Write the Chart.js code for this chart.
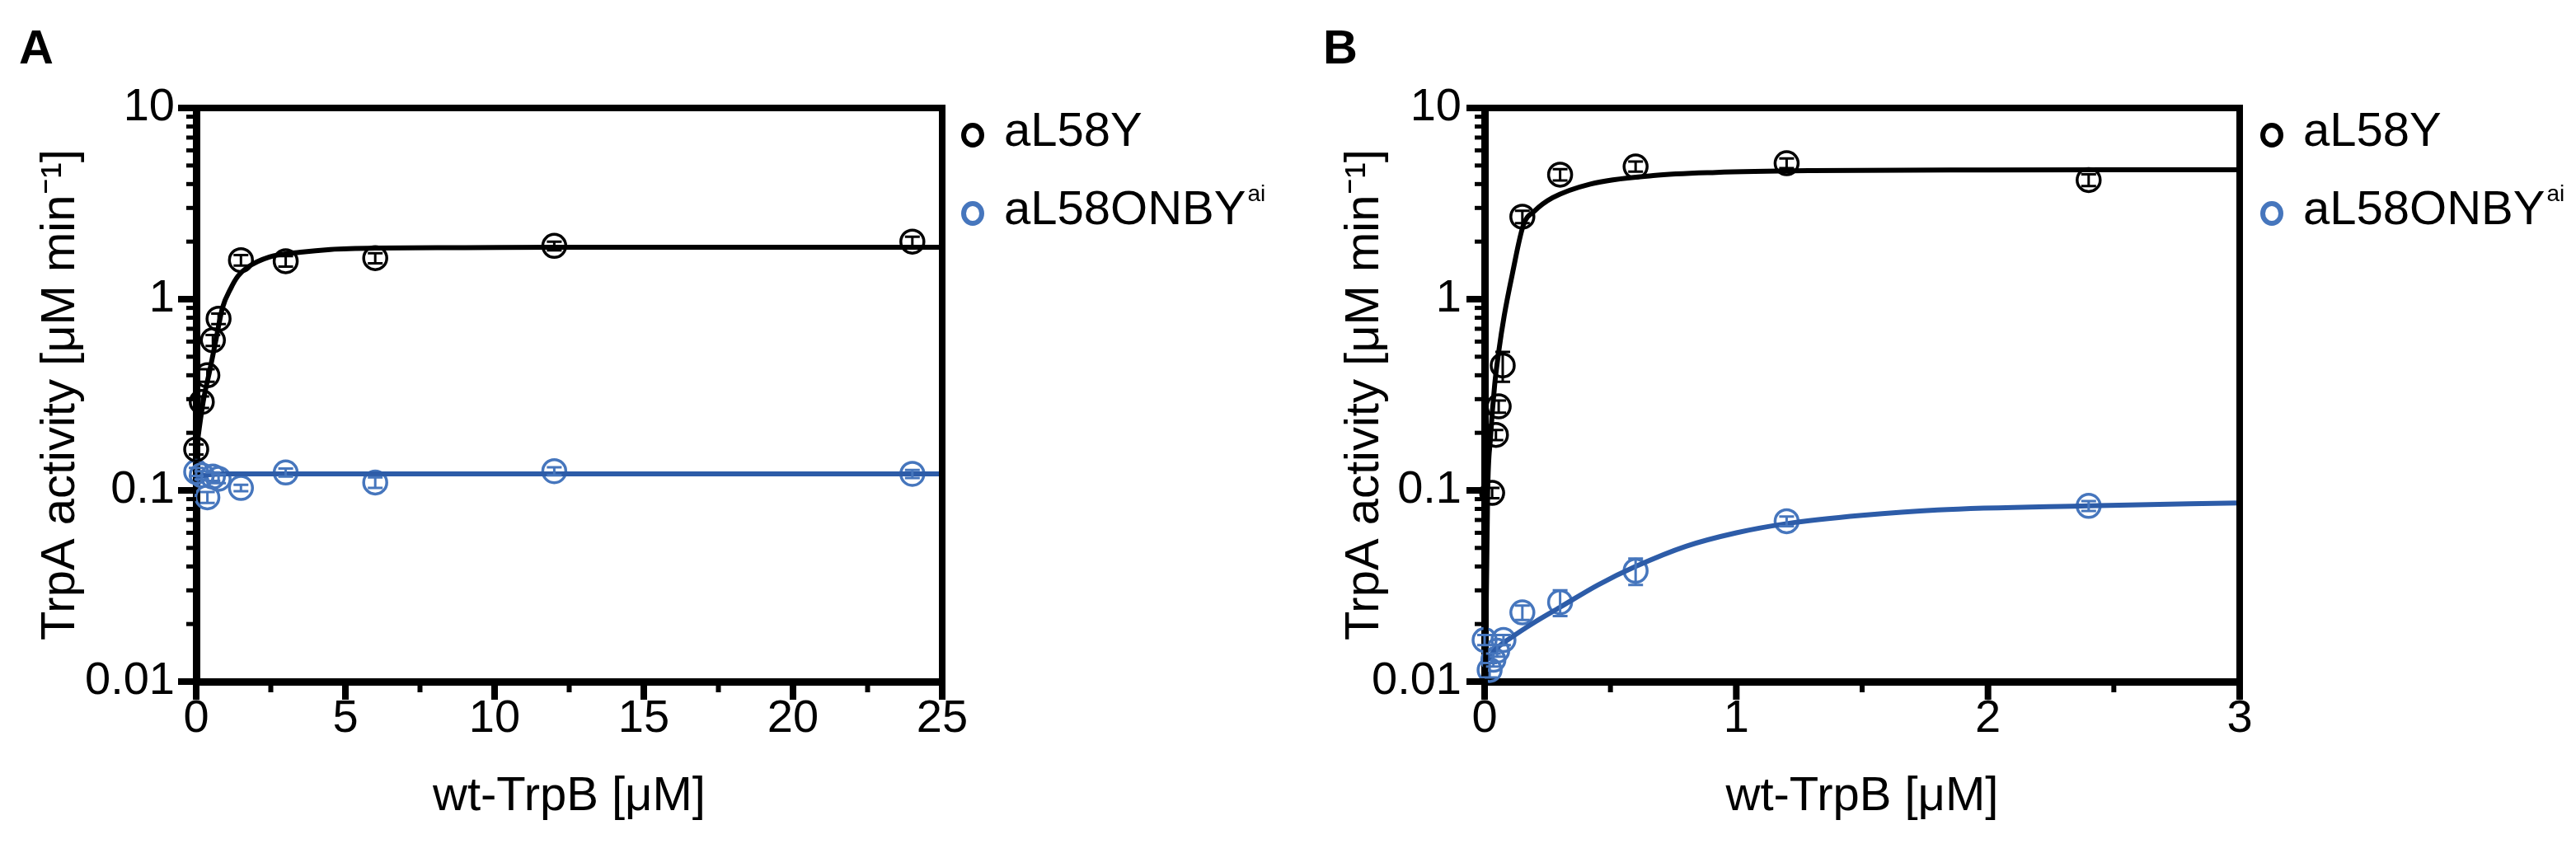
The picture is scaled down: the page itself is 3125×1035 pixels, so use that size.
<!DOCTYPE html>
<html>
<head>
<meta charset="utf-8">
<script src="https://cdn.jsdelivr.net/npm/chart.js@4.4.1/dist/chart.umd.min.js"></script>
<style>
    html, body { margin: 0; padding: 0; background: #fff; }
    #wrap { position: relative; width: 3125px; height: 1035px; }
    canvas { position: absolute; top: 0; }
</style>
</head>
<body>
<div id="wrap">
    <canvas id="chartA" width="1562" height="1035" style="left:0;width:1562px;height:1035px"></canvas>
    <canvas id="chartB" width="1563" height="1035" style="left:1562px;width:1563px;height:1035px"></canvas>
</div>
<script>
// ---- data ----
const seriesNames = ['aL58Y', 'aL58ONBY'];
const seriesSup = ['', 'ai'];

// Panel A
const concA = [0, 0.1875, 0.375, 0.56, 0.75, 1.5, 3, 6, 12, 24];
const blackA = [0.164, 0.29, 0.40, 0.61, 0.79, 1.6, 1.58, 1.64, 1.9, 2.0];
const blackErrA = [0.01, 0.02, 0.03, 0.04, 0.05, 0.1, 0.1, 0.1, 0.1, 0.12];
const blueA = [0.125, 0.12, 0.092, 0.118, 0.115, 0.103, 0.124, 0.11, 0.126, 0.122];
const blueErrA = [0.006, 0.006, 0.006, 0.006, 0.006, 0.004, 0.006, 0.007, 0.006, 0.006];
const fitBlackAx = [0, 0.1, 0.25, 0.45, 0.65, 0.88, 1.16, 1.4, 1.7, 2.45, 3.5, 4.5, 6, 9, 12, 18, 25];
const fitBlackAy = [0.16, 0.21, 0.3, 0.42, 0.6, 0.9, 1.14, 1.32, 1.46, 1.66, 1.76, 1.82, 1.85, 1.86, 1.87, 1.87, 1.87];
const fitBlueAx = [0, 0.1, 0.3, 1, 25];
const fitBlueAy = [0.112, 0.117, 0.12, 0.122, 0.122];

// Panel B
const concBblack = [0.03, 0.045, 0.056, 0.072, 0.15, 0.3, 0.6, 1.2, 2.4];
const blackB = [0.097, 0.195, 0.275, 0.45, 2.7, 4.48, 4.94, 5.14, 4.2];
const blackErrB = [0.006, 0.012, 0.02, 0.08, 0.2, 0.3, 0.3, 0.3, 0.3];
const concBblue = [0, 0.02, 0.035, 0.05, 0.075, 0.15, 0.3, 0.6, 1.2, 2.4];
const blueB = [0.0165, 0.0115, 0.013, 0.0145, 0.0165, 0.023, 0.026, 0.038, 0.069, 0.083];
const blueErrB = [0.001, 0.001, 0.001, 0.001, 0.001, 0.002, 0.004, 0.006, 0.004, 0.005];
const fitBlackBx = [0.003, 0.012, 0.023, 0.04, 0.056, 0.078, 0.11, 0.154, 0.2, 0.27, 0.42, 0.67, 0.92, 1.3, 2, 3];
const fitBlackBy = [0.01, 0.095, 0.185, 0.356, 0.53, 0.82, 1.35, 2.44, 2.9, 3.39, 4.0, 4.43, 4.6, 4.7, 4.74, 4.75];
const fitBlueBx = [0, 0.05, 0.1, 0.2, 0.3, 0.45, 0.6, 0.8, 1.0, 1.2, 1.5, 1.8, 2.4, 3.0];
const fitBlueBy = [0.0125, 0.015, 0.0168, 0.0205, 0.0245, 0.032, 0.040, 0.051, 0.060, 0.067, 0.074, 0.079, 0.083, 0.086];

// axes
const xTicksA = [0, 5, 10, 15, 20, 25];
const xMinorA = [2.5, 7.5, 12.5, 17.5, 22.5];
const xTicksB = [0, 1, 2, 3];
const xMinorB = [0.5, 1.5, 2.5];
const yTicks = [0.01, 0.1, 1, 10];
const yTickLabels = ['0.01', '0.1', '1', '10'];

const BLACK = '#000000';
const BLUE_PT = '#4676bd';
const BLUE_LINE = '#2d5ca8';
const FONT = "'Liberation Sans', Arial, sans-serif";

Chart.defaults.font.family = FONT;
Chart.defaults.color = '#000';

const pts = (xs, ys) => xs.map((x, i) => ({ x: x, y: ys[i] }));

// frame, tick marks, error bars, legend and panel letter
const figureDecor = {
    id: 'figureDecor',
    afterDatasetsDraw(chart, args, opts) {
        const { ctx, scales: { y } } = chart;
        ctx.save();
        // error bars
        chart.data.datasets.forEach((ds, di) => {
            if (!ds.errors) return;
            const meta = chart.getDatasetMeta(di);
            ctx.strokeStyle = ds.borderColor;
            ctx.lineWidth = 3;
            ds.data.forEach((p, i) => {
                const px = meta.data[i].x;
                const hi = y.getPixelForValue(p.y + ds.errors[i]);
                const lo = y.getPixelForValue(Math.max(p.y - ds.errors[i], 0.0005));
                ctx.beginPath();
                ctx.moveTo(px, hi); ctx.lineTo(px, lo);
                ctx.moveTo(px - 9, hi); ctx.lineTo(px + 9, hi);
                ctx.moveTo(px - 9, lo); ctx.lineTo(px + 9, lo);
                ctx.stroke();
            });
        });
        ctx.restore();
    },
    afterDraw(chart, args, opts) {
        const { ctx, chartArea: a, scales: { x, y } } = chart;
        ctx.save();
        ctx.strokeStyle = BLACK;
        ctx.lineCap = 'butt';

        // top and right frame
        ctx.lineWidth = 8;
        ctx.beginPath();
        ctx.moveTo(a.left - 4, a.top);
        ctx.lineTo(a.right, a.top);
        ctx.lineTo(a.right, a.bottom);
        ctx.stroke();

        function seg(x1, y1, x2, y2, w) {
            ctx.lineWidth = w;
            ctx.beginPath();
            ctx.moveTo(x1, y1); ctx.lineTo(x2, y2);
            ctx.stroke();
        }
        // x ticks
        opts.xMajor.forEach(v => {
            const px = x.getPixelForValue(v);
            seg(px, a.bottom, px, a.bottom + 22, 8);
        });
        opts.xMinor.forEach(v => {
            const px = x.getPixelForValue(v);
            seg(px, a.bottom, px, a.bottom + 13, 6);
        });
        // y ticks (log decades with minor marks)
        yTicks.forEach((v, i) => {
            const py = y.getPixelForValue(v);
            seg(a.left - 22, py, a.left, py, 8);
            if (i < yTicks.length - 1) {
                for (let m = 2; m <= 9; m++) {
                    const pm = y.getPixelForValue(v * m);
                    seg(a.left - 12, pm, a.left, pm, 5);
                }
            }
        });

        // legend
        const colors = [BLACK, BLUE_PT];
        seriesNames.forEach((name, i) => {
            const cy = a.top + 33 + i * 95;
            const mx = a.right + opts.legendDx;
            ctx.lineWidth = 6;
            ctx.strokeStyle = colors[i];
            ctx.beginPath();
            ctx.ellipse(mx, cy, 11, 12, 0, 0, Math.PI * 2);
            ctx.stroke();
            ctx.fillStyle = BLACK;
            ctx.textBaseline = 'middle';
            ctx.textAlign = 'left';
            ctx.font = '58px ' + FONT;
            const tx = mx + 38;
            ctx.fillText(name, tx, cy - 3);
            if (seriesSup[i]) {
                const w = ctx.measureText(name).width;
                ctx.font = '28px ' + FONT;
                ctx.fillText(seriesSup[i], tx + w + 2, cy - 23);
            }
        });

        // panel letter
        ctx.fillStyle = BLACK;
        ctx.textAlign = 'left';
        ctx.textBaseline = 'alphabetic';
        ctx.font = 'bold 58px ' + FONT;
        ctx.fillText(opts.letter, opts.letterX, 77);
        ctx.restore();
    }
};

function makePanel(id, cfg) {
    const fitLine = (xs, ys, color) => ({
        type: 'line',
        data: pts(xs, ys),
        borderColor: color,
        borderWidth: 6,
        pointRadius: 0,
        cubicInterpolationMode: 'monotone',
        fill: false,
        clip: false
    });
    const marker = (xs, ys, errs, color, label) => ({
        type: 'scatter',
        label: label,
        data: pts(xs, ys),
        errors: errs,
        borderColor: color,
        backgroundColor: 'rgba(0,0,0,0)',
        pointRadius: 14,
        pointBorderWidth: 3.5,
        showLine: false,
        clip: false
    });

    return new Chart(document.getElementById(id), {
        type: 'scatter',
        data: {
            datasets: [
                fitLine(cfg.fitBlackX, cfg.fitBlackY, BLACK),
                fitLine(cfg.fitBlueX, cfg.fitBlueY, BLUE_LINE),
                marker(cfg.blackX, cfg.blackY, cfg.blackErr, BLACK, seriesNames[0]),
                marker(cfg.blueX, cfg.blueY, cfg.blueErr, BLUE_PT, seriesNames[1] + seriesSup[1])
            ]
        },
        options: {
            responsive: false,
            animation: false,
            devicePixelRatio: 1,
            layout: { padding: { left: 0, top: 131, right: cfg.padRight, bottom: 0 } },
            plugins: {
                legend: { display: false },
                tooltip: { enabled: false },
                figureDecor: {
                    xMajor: cfg.xTicks,
                    xMinor: cfg.xMinor,
                    legendDx: cfg.legendDx,
                    letter: cfg.letter,
                    letterX: cfg.letterX
                }
            },
            scales: {
                x: {
                    type: 'linear',
                    min: 0,
                    max: cfg.xMax,
                    afterBuildTicks: s => { s.ticks = cfg.xTicks.map(v => ({ value: v })); },
                    afterFit: s => { s.height = 208; },
                    grid: { display: false, drawTicks: false },
                    border: { display: true, color: BLACK, width: 9 },
                    ticks: {
                        padding: 12,
                        font: { size: 56 },
                        color: BLACK,
                        maxRotation: 0,
                        callback: v => String(v)
                    },
                    title: {
                        display: true,
                        text: 'wt-TrpB [μM]',
                        font: { size: 58 },
                        color: BLACK,
                        padding: { top: 0, bottom: 33 }
                    }
                },
                y: {
                    type: 'logarithmic',
                    min: 0.01,
                    max: 10,
                    afterBuildTicks: s => { s.ticks = yTicks.map(v => ({ value: v, major: true })); },
                    afterFit: s => { s.width = cfg.yWidth; },
                    grid: { display: false, drawTicks: false },
                    border: { display: true, color: BLACK, width: 9 },
                    ticks: {
                        padding: cfg.yTickPad,
                        font: { size: 56 },
                        color: BLACK,
                        callback: (v, i) => yTickLabels[i]
                    },
                    title: {
                        display: true,
                        text: 'TrpA activity [μM min⁻¹]',
                        font: { size: 58 },
                        color: BLACK,
                        padding: { top: cfg.yTitlePad, bottom: 0 }
                    }
                }
            }
        },
        plugins: [figureDecor]
    });
}

makePanel('chartA', {
    letter: 'A', letterX: 23,
    padRight: 419, yWidth: 238, yTickPad: 26, yTitlePad: 39, legendDx: 37,
    xMax: 25, xTicks: xTicksA, xMinor: xMinorA,
    blackX: concA, blackY: blackA, blackErr: blackErrA,
    blueX: concA, blueY: blueA, blueErr: blueErrA,
    fitBlackX: fitBlackAx, fitBlackY: fitBlackAy,
    fitBlueX: fitBlueAx, fitBlueY: fitBlueAy
});

makePanel('chartB', {
    letter: 'B', letterX: 43,
    padRight: 408, yWidth: 239, yTickPad: 28, yTitlePad: 59, legendDx: 39,
    xMax: 3, xTicks: xTicksB, xMinor: xMinorB,
    blackX: concBblack, blackY: blackB, blackErr: blackErrB,
    blueX: concBblue, blueY: blueB, blueErr: blueErrB,
    fitBlackX: fitBlackBx, fitBlackY: fitBlackBy,
    fitBlueX: fitBlueBx, fitBlueY: fitBlueBy
});
</script>
</body>
</html>
